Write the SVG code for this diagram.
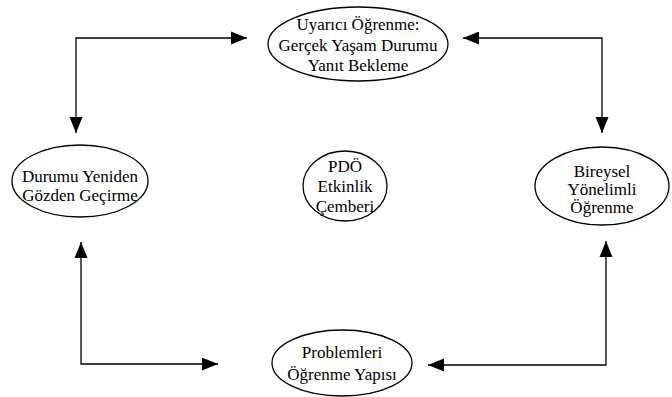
<svg xmlns="http://www.w3.org/2000/svg" width="672" height="397" viewBox="0 0 672 397">
<defs>
<style>
.n ellipse{fill:#fff;stroke:#000;stroke-width:1.3}
.n text{fill:#000;text-anchor:middle}
.c path{fill:none;stroke:#000;stroke-width:1.3;marker-start:url(#ahs);marker-end:url(#ah)}
</style>
<marker id="ah" markerUnits="userSpaceOnUse" markerWidth="17" markerHeight="14" refX="16" refY="6.5" orient="auto">
<path d="M0,0 L16,6.5 L0,13 Z" fill="#000"/>
</marker>
<marker id="ahs" markerUnits="userSpaceOnUse" markerWidth="17" markerHeight="14" refX="0" refY="6.5" orient="auto">
<path d="M16,0 L0,6.5 L16,13 Z" fill="#000"/>
</marker>
</defs>
<rect width="672" height="397" fill="#fff"/>
<g id="connectors" class="c">
<path d="M247,38 H76 V133"/>
<path d="M463,38 H602 V133"/>
<path d="M81,242 V364 H218"/>
<path d="M606,241 V365 H428"/>
</g>
<g font-family="Liberation Serif, DejaVu Serif, serif" font-size="17">
<g id="top" class="n">
<ellipse cx="358" cy="44" rx="90" ry="37"/>
<text x="358" y="30">Uyarıcı Öğrenme:</text>
<text x="358" y="51">Gerçek Yaşam Durumu</text>
<text x="358" y="71">Yanıt Bekleme</text>
</g>
<g id="left" class="n">
<ellipse cx="80" cy="181" rx="68" ry="36"/>
<text x="80" y="182">Durumu Yeniden</text>
<text x="80" y="201">Gözden Geçirme</text>
</g>
<g id="center" class="n">
<ellipse cx="345" cy="186" rx="42" ry="35"/>
<text x="345" y="172">PDÖ</text>
<text x="345" y="192">Etkinlik</text>
<text x="345" y="212">Çemberi</text>
</g>
<g id="right" class="n">
<ellipse cx="602" cy="186" rx="67" ry="39"/>
<text x="602" y="177">Bireysel</text>
<text x="602" y="195">Yönelimli</text>
<text x="602" y="213">Öğrenme</text>
</g>
<g id="bottom" class="n">
<ellipse cx="342" cy="363" rx="70" ry="33"/>
<text x="342" y="358">Problemleri</text>
<text x="342" y="380">Öğrenme Yapısı</text>
</g>
</g>
</svg>
